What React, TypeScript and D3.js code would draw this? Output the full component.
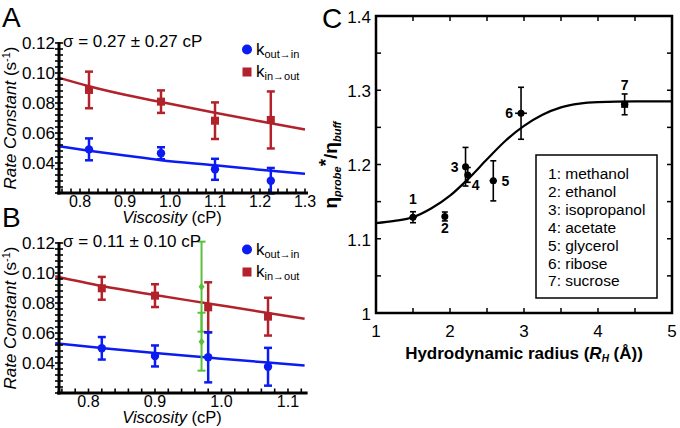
import React from 'react';
import * as d3 from 'd3';

const FONT = "'Liberation Sans', Arial, Helvetica, sans-serif";
const BLUE = '#0b1cf2';
const RED = '#b2222b';
const GREEN = '#5cbf3c';

// ---------- Panel A ----------
const viscA = [0.82, 0.98, 1.1, 1.224];
const kOutInA = [0.0491, 0.0465, 0.0358, 0.0282];
const kOutInErrA = [0.0073, 0.004, 0.007, 0.0085];
const kInOutA = [0.0887, 0.0809, 0.0682, 0.0687];
const kInOutErrA = [0.0122, 0.0075, 0.0122, 0.019];
const fitViscA = [0.75, 0.82, 0.9, 0.98, 1.1, 1.2, 1.3];
const fitOutInA = [0.0513, 0.0482, 0.045, 0.0419, 0.0385, 0.0355, 0.0328];
const fitInOutA = [0.0971, 0.0912, 0.0855, 0.0806, 0.0735, 0.0678, 0.0624];
const sigmaA = 'σ = 0.27 ± 0.27 cP';

// ---------- Panel B ----------
const viscB = [0.82, 0.9, 0.98, 1.07];
const kOutInB = [0.0498, 0.0447, 0.0438, 0.0375];
const kOutInErrB = [0.0075, 0.007, 0.0167, 0.0126];
const kInOutB = [0.0898, 0.0849, 0.0771, 0.0709];
const kInOutErrB = [0.0076, 0.0076, 0.0167, 0.0126];
const greenVisc = [0.97, 0.97];
const greenK = [0.0909, 0.0542];
const greenErr = [0.03, 0.0193];
const fitViscB = [0.75, 0.82, 0.9, 0.98, 1.07, 1.125];
const fitOutInB = [0.0531, 0.05, 0.0466, 0.0436, 0.0403, 0.0384];
const fitInOutB = [0.0978, 0.0913, 0.0853, 0.0797, 0.0734, 0.0695];
const sigmaB = 'σ = 0.11 ± 0.10 cP';

const yTicksAB = [0.04, 0.06, 0.08, 0.1, 0.12];
const xTicksA = [0.8, 0.9, 1.0, 1.1, 1.2, 1.3];
const xTicksB = [0.8, 0.9, 1.0, 1.1];

// ---------- Panel C ----------
const solventIds = ['1', '2', '3', '4', '5', '6', '7'];
const solventNames = ['methanol', 'ethanol', 'isopropanol', 'acetate', 'glycerol', 'ribose', 'sucrose'];
const radius = [1.5, 1.93, 2.21, 2.24, 2.585, 2.96, 4.36];
const radiusErr = [0.05, 0.03, 0.02, 0.03, 0.05, 0.08, 0.05];
const etaRatio = [1.129, 1.13, 1.197, 1.186, 1.178, 1.269, 1.281];
const etaErr = [0.0074, 0.006, 0.026, 0.01, 0.027, 0.035, 0.014];
const fitRadius = [1, 1.25, 1.5, 1.75, 2, 2.25, 2.5, 2.75, 3, 3.25, 3.5, 3.75, 4, 4.5, 5];
const fitEta = [1.121, 1.124, 1.129, 1.141, 1.158, 1.181, 1.207, 1.232, 1.252, 1.267, 1.277, 1.282, 1.284, 1.285, 1.285];
const xTicksC = [1, 2, 3, 4, 5];
const xTickLabelsC = ['1', '2', '3', '4', '5'];
const yTicksC = [1, 1.1, 1.2, 1.3, 1.4];
const yTickLabelsC = ['1', '1.1', '1.2', '1.3', '1.4'];

type PanelProps = {
  letter: string;
  top: number;
  xDomain: [number, number];
  xRange: [number, number];
  xTicks: number[];
  visc: number[];
  kOutIn: number[];
  kOutInErr: number[];
  kInOut: number[];
  kInOutErr: number[];
  fitVisc: number[];
  fitOutIn: number[];
  fitInOut: number[];
  sigma: string;
  green?: boolean;
};

function RatePanel(p: PanelProps) {
  const x = d3.scaleLinear().domain(p.xDomain).range(p.xRange);
  const y = d3.scaleLinear().domain([0.02, 0.12]).range([p.top + 193, p.top + 43]);
  const axisX = 59;
  const axisY = y(0.02);
  const line = d3
    .line<[number, number]>()
    .x((d) => x(d[0]))
    .y((d) => y(d[1]))
    .curve(d3.curveMonotoneX);
  const outInPts = p.fitVisc.map((v, i) => [v, p.fitOutIn[i]] as [number, number]);
  const inOutPts = p.fitVisc.map((v, i) => [v, p.fitInOut[i]] as [number, number]);
  const yMinor = d3.range(0.02, 0.1201, 0.004);
  const xMinor = d3.range(0.76, p.xDomain[1] + 0.0001, 0.02);
  const cap = 4;
  const errBar = (cx: number, cy: number, e: number, color: string, key: string, w = 2.5) => (
    <g key={key} stroke={color} strokeWidth={w}>
      <line x1={x(cx)} x2={x(cx)} y1={y(cy - e)} y2={y(cy + e)} />
      <line x1={x(cx) - cap} x2={x(cx) + cap} y1={y(cy - e)} y2={y(cy - e)} />
      <line x1={x(cx) - cap} x2={x(cx) + cap} y1={y(cy + e)} y2={y(cy + e)} />
    </g>
  );
  return (
    <g fontFamily={FONT}>
      <text x={2} y={p.top + 27} fontSize={28}>{p.letter}</text>
      <path d={line(inOutPts) || ''} fill="none" stroke={RED} strokeWidth={2.5} />
      <path d={line(outInPts) || ''} fill="none" stroke={BLUE} strokeWidth={2.5} />
      {p.green &&
        greenVisc.map((v, i) => (
          <g key={'g' + i}>
            {errBar(v, greenK[i], greenErr[i], GREEN, 'ge' + i, 2)}
            <path
              d={`M${x(v)},${y(greenK[i]) - 4}L${x(v) + 3},${y(greenK[i])}L${x(v)},${y(greenK[i]) + 4}L${x(v) - 3},${y(greenK[i])}Z`}
              fill={GREEN}
            />
          </g>
        ))}
      {p.visc.map((v, i) => (
        <g key={'r' + i}>
          {errBar(v, p.kInOut[i], p.kInOutErr[i], RED, 're' + i)}
          <rect x={x(v) - 4} y={y(p.kInOut[i]) - 4} width={8} height={8} fill={RED} />
        </g>
      ))}
      {p.visc.map((v, i) => (
        <g key={'b' + i}>
          {errBar(v, p.kOutIn[i], p.kOutInErr[i], BLUE, 'be' + i)}
          <circle cx={x(v)} cy={y(p.kOutIn[i])} r={4.2} fill={BLUE} />
        </g>
      ))}
      <g stroke="#000">
        <line x1={axisX} x2={axisX} y1={y(0.12) - 1} y2={axisY + 1.5} strokeWidth={3} />
        <line x1={axisX - 2} x2={p.xRange[1] + 3} y1={axisY} y2={axisY} strokeWidth={3} />
        {yMinor.map((t, i) => (
          <line key={'ym' + i} x1={axisX - 4} x2={axisX + 4} y1={y(t)} y2={y(t)} strokeWidth={1.6} />
        ))}
        {xMinor.map((t, i) => (
          <line key={'xm' + i} x1={x(t)} x2={x(t)} y1={axisY} y2={axisY - 4.5} strokeWidth={1.6} />
        ))}
      </g>
      {yTicksAB.map((t) => (
        <text key={'yl' + t} x={55} y={y(t)} dy="0.36em" fontSize={17} textAnchor="end">
          {t.toFixed(2)}
        </text>
      ))}
      {p.xTicks.map((t) => (
        <text key={'xl' + t} x={x(t)} y={axisY + 13.5} fontSize={16} textAnchor="middle">
          {t.toFixed(1)}
        </text>
      ))}
      <text x={172} y={axisY + 29.5} fontSize={16.5} textAnchor="middle">
        <tspan fontStyle="italic">Viscosity</tspan> (cP)
      </text>
      <text transform={`translate(16,${p.top + 118}) rotate(-90)`} fontSize={17} textAnchor="middle">
        <tspan fontStyle="italic">Rate Constant</tspan> (s
        <tspan fontSize={11} dy={-6}>-1</tspan>
        <tspan dy={6}>)</tspan>
      </text>
      <text x={63} y={p.top + 47} fontSize={17}>{p.sigma}</text>
      <circle cx={247} cy={p.top + 49.5} r={5} fill={BLUE} />
      <text x={256} y={p.top + 55} fontSize={17}>
        k<tspan fontSize={11} dy={3}>out→in</tspan>
      </text>
      <rect x={242.5} y={p.top + 67.5} width={9} height={9} fill={RED} />
      <text x={256} y={p.top + 77} fontSize={17}>
        k<tspan fontSize={11} dy={3}>in→out</tspan>
      </text>
    </g>
  );
}

function PanelC() {
  const x = d3.scaleLinear().domain([1, 5]).range([376, 672]);
  const y = d3.scaleLinear().domain([1, 1.4]).range([313, 16]);
  const line = d3
    .line<number>()
    .x((d, i) => x(fitRadius[i]))
    .y((d) => y(d))
    .curve(d3.curveMonotoneX);
  const xMinor = d3.range(1.5, 5, 0.5);
  const yMinor = d3.range(1.05, 1.4, 0.05);
  const tick = 5;
  const labelOffsets: [number, number][] = [
    [0, -13],
    [0, 17],
    [-11, 5],
    [8, 15],
    [12, 5],
    [-12, 5],
    [0, -14],
  ];
  return (
    <g fontFamily={FONT}>
      <text x={322} y={28} fontSize={28}>C</text>
      <path d={line(fitEta) || ''} fill="none" stroke="#000" strokeWidth={2.2} />
      {radius.map((r, i) => (
        <g key={'p' + i} stroke="#000" strokeWidth={1.6}>
          <line x1={x(r)} x2={x(r)} y1={y(etaRatio[i] - etaErr[i])} y2={y(etaRatio[i] + etaErr[i])} />
          <line x1={x(r) - 3} x2={x(r) + 3} y1={y(etaRatio[i] - etaErr[i])} y2={y(etaRatio[i] - etaErr[i])} />
          <line x1={x(r) - 3} x2={x(r) + 3} y1={y(etaRatio[i] + etaErr[i])} y2={y(etaRatio[i] + etaErr[i])} />
          <line x1={x(r - radiusErr[i])} x2={x(r + radiusErr[i])} y1={y(etaRatio[i])} y2={y(etaRatio[i])} />
          {i === 6 ? (
            <rect x={x(r) - 3.5} y={y(etaRatio[i]) - 3.5} width={7} height={7} fill="#000" stroke="none" />
          ) : (
            <circle cx={x(r)} cy={y(etaRatio[i])} r={3.5} fill="#000" stroke="none" />
          )}
        </g>
      ))}
      {radius.map((r, i) => (
        <text
          key={'pl' + i}
          x={x(r) + labelOffsets[i][0]}
          y={y(etaRatio[i]) + labelOffsets[i][1]}
          fontSize={14}
          fontWeight="bold"
          textAnchor="middle"
        >
          {solventIds[i]}
        </text>
      ))}
      <rect x={376} y={16} width={296} height={297} fill="none" stroke="#000" strokeWidth={2.5} />
      <g stroke="#000" strokeWidth={1.5}>
        {xMinor.map((t, i) => (
          <g key={'xt' + i}>
            <line x1={x(t)} x2={x(t)} y1={313} y2={313 - tick} />
            <line x1={x(t)} x2={x(t)} y1={16} y2={16 + tick} />
          </g>
        ))}
        {yMinor.map((t, i) => (
          <g key={'yt' + i}>
            <line x1={376} x2={376 + tick} y1={y(t)} y2={y(t)} />
            <line x1={672} x2={672 - tick} y1={y(t)} y2={y(t)} />
          </g>
        ))}
      </g>
      {yTicksC.map((t, i) => (
        <text key={'yl' + i} x={371} y={y(t)} dy="0.4em" fontSize={17} textAnchor="end">
          {yTickLabelsC[i]}
        </text>
      ))}
      {xTicksC.map((t, i) => (
        <text key={'xl' + i} x={x(t)} y={337} fontSize={17} textAnchor="middle">
          {xTickLabelsC[i]}
        </text>
      ))}
      <text x={524} y={359} fontSize={17} fontWeight="bold" textAnchor="middle">
        Hydrodynamic radius (<tspan fontStyle="italic">R</tspan>
        <tspan fontStyle="italic" fontSize={10} dy={3}>H</tspan>
        <tspan dy={-3}> (Å))</tspan>
      </text>
      <text transform="translate(337,165) rotate(-90)" fontSize={19} fontWeight="bold" textAnchor="middle">
        η<tspan fontSize={11} fontStyle="italic" dy={4}>probe</tspan>
        <tspan dy={-9}>*</tspan>
        <tspan dy={5}>/η</tspan>
        <tspan fontSize={11} fontStyle="italic" dy={4}>buff</tspan>
      </text>
      <rect x={536} y={155} width={121} height={143} fill="#fff" stroke="#000" strokeWidth={1.5} />
      {solventNames.map((n, i) => (
        <text key={'lg' + i} x={548} y={179 + i * 17.9} fontSize={15.5}>
          {solventIds[i]}: {n}
        </text>
      ))}
    </g>
  );
}

export default function App() {
  return (
    <svg
      width={680}
      height={428}
      viewBox="0 0 680 428"
      style={{ position: 'absolute', left: 0, top: 0, background: '#fff' }}
    >
      <rect width={680} height={428} fill="#fff" />
      <RatePanel
        letter="A"
        top={0}
        xDomain={[0.75, 1.3]}
        xRange={[57.5, 305]}
        xTicks={xTicksA}
        visc={viscA}
        kOutIn={kOutInA}
        kOutInErr={kOutInErrA}
        kInOut={kInOutA}
        kInOutErr={kInOutErrA}
        fitVisc={fitViscA}
        fitOutIn={fitOutInA}
        fitInOut={fitInOutA}
        sigma={sigmaA}
      />
      <RatePanel
        letter="B"
        top={200}
        xDomain={[0.75, 1.125]}
        xRange={[55.25, 304.6]}
        xTicks={xTicksB}
        visc={viscB}
        kOutIn={kOutInB}
        kOutInErr={kOutInErrB}
        kInOut={kInOutB}
        kInOutErr={kInOutErrB}
        fitVisc={fitViscB}
        fitOutIn={fitOutInB}
        fitInOut={fitInOutB}
        sigma={sigmaB}
        green
      />
      <PanelC />
    </svg>
  );
}
